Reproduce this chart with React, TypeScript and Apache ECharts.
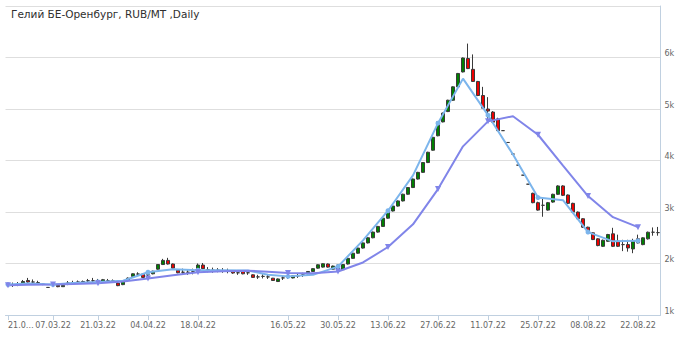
import React, { useEffect, useRef } from 'react';
import * as echarts from 'echarts';

const TITLE = 'Гелий БЕ-Оренбург, RUB/MT ,Daily';

const dates = [
  '21.02.22','22.02.22','24.02.22','25.02.22','28.02.22',
  '01.03.22','02.03.22','03.03.22','04.03.22','07.03.22','09.03.22','10.03.22','11.03.22','14.03.22','15.03.22','16.03.22','17.03.22','18.03.22','21.03.22','22.03.22','23.03.22','24.03.22','25.03.22','28.03.22','29.03.22','30.03.22','31.03.22',
  '01.04.22','04.04.22','05.04.22','06.04.22','07.04.22','08.04.22','11.04.22','12.04.22','13.04.22','14.04.22','15.04.22','18.04.22','19.04.22','20.04.22','21.04.22','22.04.22','25.04.22','26.04.22','27.04.22','28.04.22','29.04.22',
  '03.05.22','04.05.22','05.05.22','06.05.22','10.05.22','11.05.22','12.05.22','13.05.22','16.05.22','17.05.22','18.05.22','19.05.22','20.05.22','23.05.22','24.05.22','25.05.22','26.05.22','27.05.22','30.05.22','31.05.22',
  '01.06.22','02.06.22','03.06.22','06.06.22','07.06.22','08.06.22','09.06.22','10.06.22','13.06.22','14.06.22','15.06.22','16.06.22','17.06.22','20.06.22','21.06.22','22.06.22','23.06.22','24.06.22','27.06.22','28.06.22','29.06.22','30.06.22',
  '01.07.22','04.07.22','05.07.22','06.07.22','07.07.22','08.07.22','11.07.22','12.07.22','13.07.22','14.07.22','15.07.22','18.07.22','19.07.22','20.07.22','21.07.22','22.07.22','25.07.22','26.07.22','27.07.22','28.07.22','29.07.22',
  '01.08.22','02.08.22','03.08.22','04.08.22','05.08.22','08.08.22','09.08.22','10.08.22','11.08.22','12.08.22','15.08.22','16.08.22','17.08.22','18.08.22','19.08.22','22.08.22','23.08.22','24.08.22','25.08.22','26.08.22'
];

const opens = [
  1590,1585,1600,1620,1670,1640,1630,1600,1535,1590,1575,1550,1620,1630,1640,1625,1665,1665,1670,1650,
  1665,1665,1620,1590,1670,1750,1795,1795,1780,1800,1890,1980,2060,1990,1870,1830,1830,1840,1900,1970,
  1880,1870,1870,1860,1850,1860,1820,1850,1820,1780,1740,1750,1740,1715,1650,1720,1740,1720,1760,1780,
  1800,1845,1910,1930,1990,1890,1970,1880,1990,2100,2200,2300,2400,2500,2610,2720,2880,3020,3115,3215,
  3345,3475,3640,3770,3960,4200,4480,4750,4950,5170,5430,5720,5980,5770,5535,5262,5000,4940,4808,4580,
  4350,4125,3910,3715,3540,3363,3181,3130,3037,3193,3344,3506,3330,3168,2998,2869,2705,2595,2479,2334,
  2432,2576,2432,2367,2367,2283,2479,2367,2479,2607,2600
];
const closes = [
  1590,1590,1600,1650,1640,1640,1630,1600,1535,1590,1550,1575,1620,1630,1640,1650,1665,1665,1670,1685,
  1665,1665,1570,1650,1715,1800,1795,1730,1780,1850,1980,2060,1990,1910,1820,1830,1830,1840,1970,1900,
  1880,1870,1870,1860,1850,1815,1820,1800,1820,1730,1740,1750,1740,1670,1700,1720,1740,1760,1760,1780,
  1845,1900,1975,1995,1930,1950,1880,1980,2100,2200,2300,2400,2500,2610,2720,2880,3020,3115,3215,3345,
  3475,3640,3770,3960,4160,4450,4750,4920,5170,5430,5690,5990,5785,5535,5262,5016,4960,4745,4580,4580,
  4350,4125,3910,3715,3540,3181,3037,3130,3181,3344,3506,3324,3168,2998,2869,2705,2595,2465,2348,2451,
  2563,2334,2334,2367,2302,2432,2400,2498,2607,2607,2600
];
const lows = [
  1550,1545,1560,1600,1625,1600,1595,1580,1535,1560,1540,1545,1580,1595,1600,1610,1630,1620,1630,1640,
  1630,1630,1560,1580,1660,1740,1760,1720,1740,1790,1880,1970,1980,1900,1810,1780,1780,1790,1890,1890,
  1830,1820,1830,1820,1810,1800,1780,1790,1780,1720,1700,1710,1700,1660,1640,1680,1700,1710,1720,1740,
  1790,1835,1900,1920,1920,1880,1870,1870,1980,2090,2190,2290,2390,2490,2600,2710,2870,3010,3105,3205,
  3335,3465,3630,3760,3950,4190,4470,4740,4940,5160,5420,5710,5775,5525,5250,5000,4810,4735,4570,4580,
  4350,4125,3910,3715,3540,3170,3025,2908,3025,3180,3330,3310,3155,2985,2855,2690,2585,2455,2335,2320,
  2420,2320,2320,2240,2230,2200,2390,2355,2465,2540,2540
];
const highs = [
  1625,1630,1640,1680,1720,1690,1665,1615,1535,1610,1590,1590,1660,1665,1670,1670,1700,1720,1700,1700,
  1700,1690,1640,1660,1730,1810,1830,1805,1820,1860,1990,2090,2110,2000,1880,1900,1890,1900,2000,2010,
  1930,1920,1910,1910,1900,1870,1860,1860,1870,1790,1780,1790,1780,1720,1710,1760,1780,1770,1800,1820,
  1850,1910,1985,2005,2000,1960,1980,1990,2110,2210,2310,2410,2510,2620,2730,2890,3030,3125,3225,3355,
  3485,3650,3780,3970,4170,4460,4760,4930,5180,5440,5700,6000,6270,6060,5545,5430,5230,4960,4830,4580,
  4350,4125,3910,3715,3540,3375,3200,3280,3195,3355,3520,3520,3340,3180,3010,2880,2715,2605,2490,2465,
  2575,2693,2560,2460,2460,2480,2560,2510,2620,2700,2710
];

const weekDates = [
  '21.02.22','28.02.22','07.03.22','14.03.22','21.03.22','28.03.22','04.04.22','11.04.22','18.04.22',
  '25.04.22','03.05.22','10.05.22','16.05.22','23.05.22','30.05.22','06.06.22','13.06.22','20.06.22',
  '27.06.22','04.07.22','11.07.22','18.07.22','25.07.22','01.08.22','08.08.22','15.08.22','22.08.22'
];
const weeklyLine = [
  1590,1610,1590,1620,1640,1665,1830,1890,1870,
  1870,1865,1780,1750,1780,1940,2450,3025,3710,
  4725,5590,4880,4115,3280,3230,2610,2430,2440
];
const monthlyLine = [
  1580,1585,1590,1600,1615,1650,1710,1770,1830,
  1850,1860,1840,1815,1810,1845,2020,2320,2760,
  3445,4275,4760,4860,4500,3900,3310,2900,2705
];

const tickDates = ['21.02.22','07.03.22','21.03.22','04.04.22','18.04.22','16.05.22','30.05.22','13.06.22','27.06.22','11.07.22','25.07.22','08.08.22','22.08.22'];
const firstTickText = '21.0…';

const FONT = 'DejaVu Sans, Verdana, sans-serif';

export default function App() {
  const ref = useRef<HTMLDivElement>(null);
  useEffect(() => {
    if (!ref.current) return;
    const chart = echarts.init(ref.current, null, { renderer: 'svg' });
    const candles = dates.map((_, i) => [opens[i], closes[i], lows[i], highs[i]]);
    const isTick = (_i: number, v: string) => tickDates.indexOf(v) >= 0;
    chart.setOption({
      animation: false,
      backgroundColor: '#ffffff',
      title: {
        text: TITLE,
        left: 6,
        top: 3,
        textStyle: { fontSize: 10.5, fontWeight: 'normal', color: '#2e2e2e', fontFamily: FONT }
      },
      grid: { left: 5.5, right: 19.5, top: 6, bottom: 22, containLabel: false, outerBoundsMode: 'none' },
      xAxis: {
        type: 'category',
        data: dates,
        boundaryGap: true,
        axisLine: { show: true, lineStyle: { color: '#C0D0E0', width: 1 } },
        axisTick: { show: true, alignWithLabel: true, interval: isTick, length: 5, lineStyle: { color: '#C0D0E0' } },
        axisLabel: {
          interval: isTick,
          hideOverlap: false,
          alignMinLabel: 'left',
          formatter: (v: string) => (v === tickDates[0] ? firstTickText : v),
          color: '#666666',
          fontSize: 8,
          fontFamily: FONT,
          margin: 6
        },
        splitLine: { show: false }
      },
      yAxis: {
        type: 'value',
        position: 'right',
        min: 1000,
        max: 7000,
        interval: 1000,
        axisLine: { show: true, lineStyle: { color: '#C0D0E0' } },
        axisTick: { show: false },
        axisLabel: {
          formatter: (v: number) => (v >= 7000 ? '' : v / 1000 + 'k'),
          color: '#666666',
          fontSize: 8,
          fontFamily: FONT,
          margin: 4,
          verticalAlign: 'bottom'
        },
        splitLine: { show: true, lineStyle: { color: '#dedede', width: 1 } }
      },
      series: [
        {
          type: 'candlestick',
          data: candles,
          barWidth: 3,
          itemStyle: {
            color: '#008000',
            color0: '#ee0000',
            borderColor: '#3a3a3a',
            borderColor0: '#3a3a3a',
            borderWidth: 1
          },
          z: 2
        },
        {
          type: 'line',
          data: weekDates.map((d, i) => [d, weeklyLine[i]]),
          lineStyle: { color: '#7cb5ec', width: 2 },
          itemStyle: { color: '#7cb5ec' },
          symbol: 'circle',
          symbolSize: 5,
          showSymbol: true,
          z: 3
        },
        {
          type: 'line',
          data: weekDates.map((d, i) => [d, monthlyLine[i]]),
          lineStyle: { color: '#8085e9', width: 2 },
          itemStyle: { color: '#8085e9' },
          symbol: 'triangle',
          symbolRotate: 180,
          symbolSize: 6,
          showSymbol: true,
          z: 3
        }
      ]
    });
    return () => chart.dispose();
  }, []);
  return <div ref={ref} style={{ position: 'fixed', left: 0, top: 0, width: 680, height: 337 }} />;
}
